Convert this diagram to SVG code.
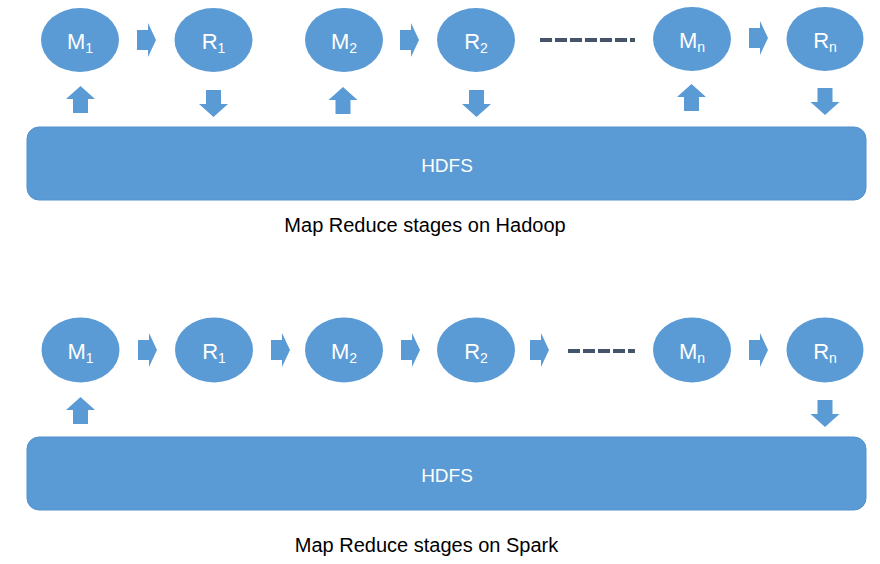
<svg xmlns="http://www.w3.org/2000/svg" width="880" height="564" viewBox="0 0 880 564">
<style>
.node{fill:#5B9BD5}
.lbl{fill:#fff;font-family:"Liberation Sans",Arial,sans-serif;font-size:22px;text-anchor:middle}
.sub{font-size:14px}
.hdfs{fill:#5B9BD5;stroke:#5290CC;stroke-width:1}
.hl{fill:#fff;font-family:"Liberation Sans",Arial,sans-serif;font-size:19px;text-anchor:middle}
.cap{fill:#000;font-family:"Liberation Sans",Arial,sans-serif;font-size:20px;text-anchor:middle}
.arr{fill:#5B9BD5}
.dash{stroke:#44546A;stroke-width:4;stroke-dasharray:12 3;fill:none}
</style>
<defs>
<path id="ra" d="M0,-10 L11,-10 L11,-17 L19,0 L11,17 L11,10 L0,10 Z"/>
<path id="ua" d="M0,0 L14.5,13 L7.5,13 L7.5,27 L-7.5,27 L-7.5,13 L-14.5,13 Z"/>
<path id="da" d="M0,27 L14.5,14 L7.5,14 L7.5,0 L-7.5,0 L-7.5,14 L-14.5,14 Z"/>
</defs>

<!-- Hadoop -->
<g id="hadoop-hdfs"><rect class="hdfs" x="27" y="127" width="839" height="73" rx="12"/><text class="hl" x="447" y="172">HDFS</text></g>
<g id="h-m1"><ellipse class="node" cx="80" cy="40" rx="39" ry="32"/><text class="lbl" x="80" y="49">M<tspan class="sub" dy="4">1</tspan></text></g>
<g id="h-r1"><ellipse class="node" cx="213.5" cy="40" rx="39" ry="32"/><text class="lbl" x="213.5" y="49">R<tspan class="sub" dy="4">1</tspan></text></g>
<g id="h-m2"><ellipse class="node" cx="344" cy="40" rx="39" ry="32"/><text class="lbl" x="344" y="49">M<tspan class="sub" dy="4">2</tspan></text></g>
<g id="h-r2"><ellipse class="node" cx="476" cy="40" rx="39" ry="32"/><text class="lbl" x="476" y="49">R<tspan class="sub" dy="4">2</tspan></text></g>
<g id="h-mn"><ellipse class="node" cx="692" cy="39" rx="39" ry="32"/><text class="lbl" x="692" y="48">M<tspan class="sub" dy="4">n</tspan></text></g>
<g id="h-rn"><ellipse class="node" cx="825" cy="39" rx="38.5" ry="32"/><text class="lbl" x="825" y="48">R<tspan class="sub" dy="4">n</tspan></text></g>
<text class="cap" x="425" y="232">Map Reduce stages on Hadoop</text>

<!-- Spark -->
<g id="spark-hdfs"><rect class="hdfs" x="27" y="437" width="839" height="73" rx="12"/><text class="hl" x="447" y="482">HDFS</text></g>
<g id="s-m1"><ellipse class="node" cx="80.5" cy="350" rx="39" ry="32.5"/><text class="lbl" x="80.5" y="359">M<tspan class="sub" dy="4">1</tspan></text></g>
<g id="s-r1"><ellipse class="node" cx="214" cy="350" rx="39" ry="32.5"/><text class="lbl" x="214" y="359">R<tspan class="sub" dy="4">1</tspan></text></g>
<g id="s-m2"><ellipse class="node" cx="344" cy="350" rx="39" ry="32.5"/><text class="lbl" x="344" y="359">M<tspan class="sub" dy="4">2</tspan></text></g>
<g id="s-r2"><ellipse class="node" cx="476" cy="350" rx="39" ry="32.5"/><text class="lbl" x="476" y="359">R<tspan class="sub" dy="4">2</tspan></text></g>
<g id="s-mn"><ellipse class="node" cx="692" cy="350" rx="39" ry="32.5"/><text class="lbl" x="692" y="359">M<tspan class="sub" dy="4">n</tspan></text></g>
<g id="s-rn"><ellipse class="node" cx="825" cy="350" rx="38.5" ry="32.5"/><text class="lbl" x="825" y="359">R<tspan class="sub" dy="4">n</tspan></text></g>
<text class="cap" x="426.5" y="552">Map Reduce stages on Spark</text>

<g id="connectors">
<use href="#ra" class="arr" x="137" y="40"/>
<use href="#ra" class="arr" x="400" y="40"/>
<use href="#ra" class="arr" x="749" y="38"/>
<use href="#ua" class="arr" x="80.5" y="86"/>
<use href="#ua" class="arr" x="343" y="87"/>
<use href="#ua" class="arr" x="691.5" y="84"/>
<use href="#da" class="arr" x="213.5" y="90"/>
<use href="#da" class="arr" x="476.5" y="90"/>
<use href="#da" class="arr" x="825" y="88"/>
<line class="dash" x1="540" y1="40" x2="635" y2="40"/>

<use href="#ra" class="arr" x="138" y="350"/>
<use href="#ra" class="arr" x="271" y="350"/>
<use href="#ra" class="arr" x="401" y="350"/>
<use href="#ra" class="arr" x="530" y="350"/>
<use href="#ra" class="arr" x="749" y="350"/>
<use href="#ua" class="arr" x="80.5" y="397"/>
<use href="#da" class="arr" x="825" y="400"/>
<line class="dash" x1="568" y1="351" x2="635" y2="351"/>
</g>
</svg>
